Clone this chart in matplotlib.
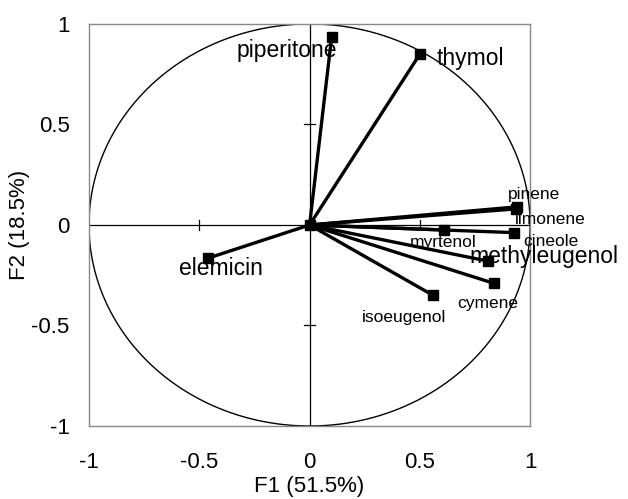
import matplotlib
matplotlib.use("Agg")
import matplotlib.pyplot as plt
import numpy as np

plt.rcParams['font.family'] = ['Liberation Sans', 'DejaVu Sans']

names = ["piperitone", "thymol", "pinene", "limonene", "cineole", "myrtenol",
         "methyleugenol", "cymene", "isoeugenol", "elemicin"]
f1 = [0.10, 0.50, 0.94, 0.935, 0.925, 0.61, 0.81, 0.835, 0.56, -0.46]
f2 = [0.935, 0.85, 0.09, 0.08, -0.038, -0.025, -0.18, -0.29, -0.35, -0.165]
xticks = [-1, -0.5, 0, 0.5, 1]
yticks = [-1, -0.5, 0, 0.5, 1]

# label placement (data coords), alignment and font sizes
label_pos = {
    "piperitone": (-0.104, 0.87, 'center', 16.5),
    "thymol": (0.576, 0.83, 'left', 16.5),
    "pinene": (0.898, 0.15, 'left', 12.5),
    "limonene": (0.93, 0.025, 'left', 12.5),
    "cineole": (0.97, -0.08, 'left', 12.5),
    "myrtenol": (0.453, -0.085, 'left', 12.5),
    "methyleugenol": (0.726, -0.155, 'left', 16.5),
    "cymene": (0.671, -0.39, 'left', 12.5),
    "isoeugenol": (0.236, -0.46, 'left', 12.5),
    "elemicin": (-0.59, -0.215, 'left', 16.5),
}

fig = plt.figure(figsize=(6.28, 4.99), dpi=100)
ax = fig.add_axes([0.1417, 0.1463, 0.7025, 0.8057])
ax.set_xlim(-1, 1)
ax.set_ylim(-1, 1)

t = np.linspace(0, 2 * np.pi, 400)
ax.plot(np.cos(t), np.sin(t), color='black', lw=1.0, zorder=2)
ax.axhline(0, color='black', lw=0.9, zorder=1)
ax.axvline(0, color='black', lw=0.9, zorder=1)
# small crossing ticks on zero axes
for v in [-0.5, 0.5]:
    ax.plot([v, v], [-0.025, 0.025], color='black', lw=0.9)
    ax.plot([-0.025, 0.025], [v, v], color='black', lw=0.9)

for x, y, n in zip(f1, f2, names):
    ax.plot([0, x], [0, y], color='black', lw=2.4, zorder=3)
    ax.plot([x], [y], marker='s', ms=7.5, color='black', zorder=4)
    lx, ly, ha, fs = label_pos[n]
    ax.text(lx, ly, n, ha=ha, va='center', fontsize=fs, zorder=5)
ax.plot([0], [0], marker='s', ms=7.5, color='black', zorder=4)

ax.set_xticks(xticks)
ax.set_yticks(yticks)
ax.set_xticklabels(["-1", "-0.5", "0", "0.5", "1"])
ax.set_yticklabels(["-1", "-0.5", "0", "0.5", "1"])
ax.tick_params(axis='x', length=0, labelsize=16, pad=19)
ax.tick_params(axis='y', length=0, labelsize=16, pad=14)
for s in ax.spines.values():
    s.set_color('#888888')
    s.set_linewidth(1.0)
ax.set_xlabel("F1 (51.5%)", fontsize=16, labelpad=2)
ax.set_ylabel("F2 (18.5%)", fontsize=16, labelpad=1)

fig.savefig("out.png", dpi=100)
